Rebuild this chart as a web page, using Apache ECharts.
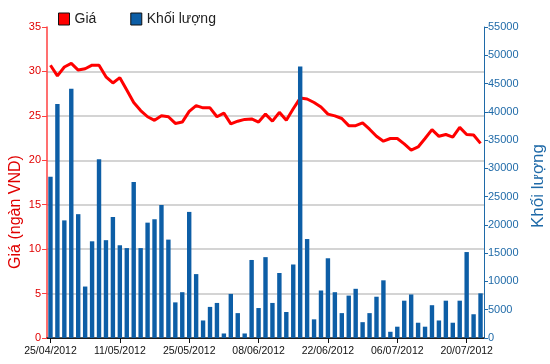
<!DOCTYPE html>
<html>
<head>
<meta charset="utf-8">
<script src="https://cdn.jsdelivr.net/npm/echarts@6/dist/echarts.min.js"></script>
<style>html,body{margin:0;padding:0;background:#fff}#c{width:550px;height:364px}</style>
</head>
<body>
<div id="c"></div>
<script>
const dates = ["25/04/2012","26/04/2012","27/04/2012","02/05/2012","03/05/2012","04/05/2012","07/05/2012","08/05/2012","09/05/2012","10/05/2012",
"11/05/2012","14/05/2012","15/05/2012","16/05/2012","17/05/2012","18/05/2012","21/05/2012","22/05/2012","23/05/2012","24/05/2012",
"25/05/2012","28/05/2012","29/05/2012","30/05/2012","31/05/2012","01/06/2012","04/06/2012","05/06/2012","06/06/2012","07/06/2012",
"08/06/2012","11/06/2012","12/06/2012","13/06/2012","14/06/2012","15/06/2012","18/06/2012","19/06/2012","20/06/2012","21/06/2012",
"22/06/2012","25/06/2012","26/06/2012","27/06/2012","28/06/2012","29/06/2012","02/07/2012","03/07/2012","04/07/2012","05/07/2012",
"06/07/2012","09/07/2012","10/07/2012","11/07/2012","12/07/2012","13/07/2012","16/07/2012","17/07/2012","18/07/2012","19/07/2012",
"20/07/2012","23/07/2012","24/07/2012"];
const price = [30.7,29.5,30.5,30.9,30.15,30.3,30.7,30.7,29.4,28.7,
29.3,27.9,26.5,25.6,24.9,24.5,25.0,24.9,24.15,24.3,
25.5,26.15,25.9,25.9,24.9,25.3,24.1,24.4,24.6,24.65,
24.3,25.2,24.4,25.4,24.5,25.8,27.0,26.9,26.5,26.0,
25.2,25.0,24.7,23.9,23.9,24.2,23.5,22.7,22.15,22.45,
22.45,21.85,21.15,21.5,22.45,23.45,22.7,22.9,22.6,23.7,
22.9,22.85,21.9];
const volume = [28500,41400,20800,44100,21900,9100,17100,31600,17300,21400,
16400,15900,27600,15900,20400,21000,23500,17400,6300,8100,
22300,11300,3100,5500,6200,800,7800,4400,800,13800,
5300,14300,6200,11500,4600,13000,48000,17500,3300,8400,
14100,8100,4400,7500,8700,2800,4400,7300,10200,1100,
2000,6600,7700,2700,2000,5800,3100,6600,2700,6600,
15200,4200,7900];
const priceTicks = [0,35,5];
const volTicks = [0,55000,5000];

const chart = echarts.init(document.getElementById('c'), null, {renderer:'canvas'});
const RED = '#ff0000', BLUE = '#0d5ea6', AXBLUE = '#1f6aa8';
const FONT = 'Liberation Sans';
chart.setOption({
  animation:false,
  textStyle:{fontFamily:FONT},
  grid:{left:47,right:66,top:27,bottom:26,containLabel:false},
  legend:{
    left:53, top:7, itemWidth:11, itemHeight:12, itemGap:34,
    textStyle:{fontSize:14,color:'#222',fontFamily:FONT},
    data:[{name:'Giá',icon:'rect',itemStyle:{color:RED,borderColor:'#111',borderWidth:1}},
          {name:'Khối lượng',icon:'rect',itemStyle:{color:BLUE,borderColor:'#111',borderWidth:1}}]
  },
  xAxis:[{
    type:'category', data:dates, boundaryGap:true,
    axisLine:{lineStyle:{color:'#111',width:1}},
    axisTick:{show:true,alignWithLabel:true,length:5,interval:(i)=>i%10===0,lineStyle:{color:'#111'}},
    axisLabel:{interval:(i)=>i%10===0,fontSize:10.5,color:'#111',margin:8,fontFamily:FONT},
    splitLine:{show:false}
  },{
    type:'category', data:dates, position:'top',
    axisLine:{lineStyle:{color:'#222',width:1.5}},
    axisTick:{show:false}, axisLabel:{show:false}, splitLine:{show:false}
  }],
  yAxis:[{
    type:'value', min:priceTicks[0], max:priceTicks[1], interval:priceTicks[2], position:'left',
    axisLine:{show:true,lineStyle:{color:'#ff4040',width:1.5}},
    axisTick:{show:true,length:5,lineStyle:{color:'#ff4040'}},
    axisLabel:{color:'#e00000',fontSize:11,margin:6,fontFamily:FONT},
    splitLine:{show:true,showMinLine:false,showMaxLine:false,lineStyle:{color:'#d4d4d4',width:2}}
  },{
    type:'value', min:volTicks[0], max:volTicks[1], interval:volTicks[2], position:'right',
    axisLine:{show:true,lineStyle:{color:AXBLUE,width:1}},
    axisTick:{show:true,length:4,lineStyle:{color:AXBLUE}},
    axisLabel:{color:AXBLUE,fontSize:11,margin:4,fontFamily:FONT,formatter:(v)=>String(v)},
    splitLine:{show:false}
  }],
  series:[{
    name:'Khối lượng', type:'bar', xAxisIndex:0, yAxisIndex:1, data:volume,
    barWidth:4.4, itemStyle:{color:BLUE}, z:3
  },{
    name:'Giá', type:'line', xAxisIndex:0, yAxisIndex:0, data:price,
    showSymbol:false, symbol:'none', lineStyle:{color:RED,width:3}, itemStyle:{color:RED}, z:2
  }],
  graphic:[{
    type:'text', x:16, y:212, rotation:Math.PI/2,
    style:{text:'Giá (ngàn VND)',fill:'#e00000',font:'16px "Liberation Sans"',textAlign:'center',textVerticalAlign:'middle'}
  },{
    type:'text', x:538, y:186, rotation:Math.PI/2,
    style:{text:'Khối lượng',fill:AXBLUE,font:'17px "Liberation Sans"',textAlign:'center',textVerticalAlign:'middle'}
  }]
});
</script>
</body>
</html>
